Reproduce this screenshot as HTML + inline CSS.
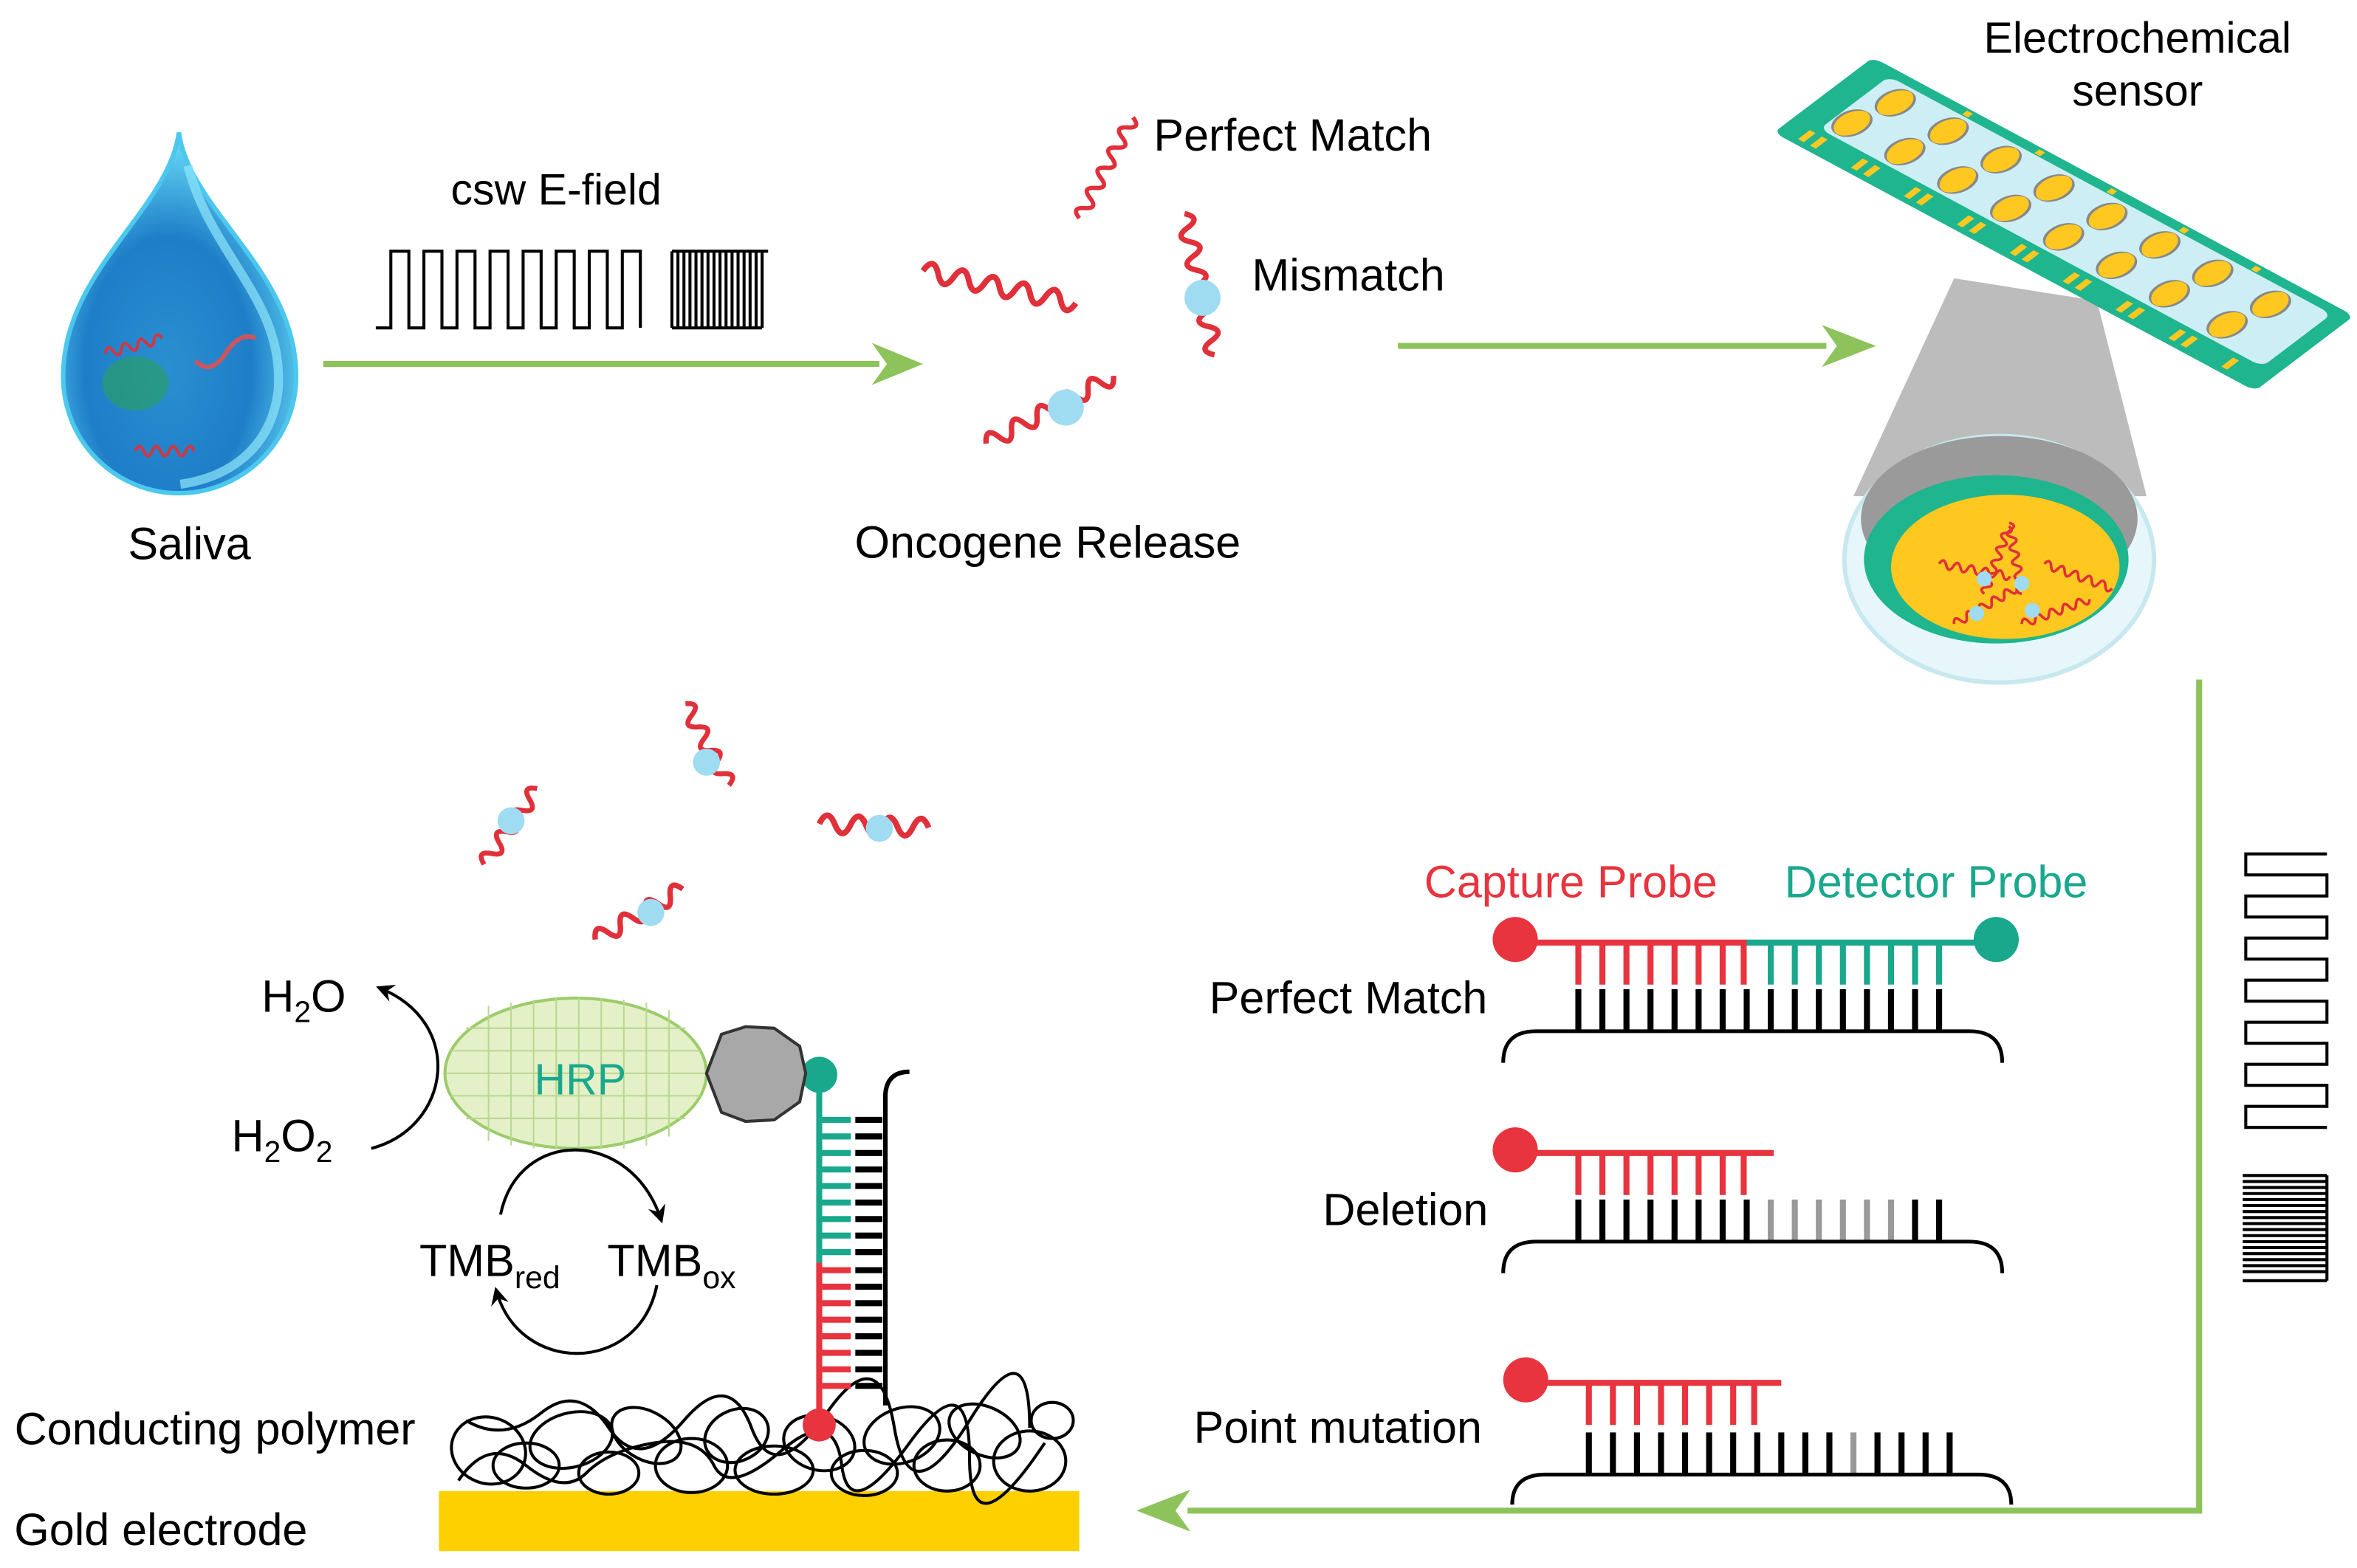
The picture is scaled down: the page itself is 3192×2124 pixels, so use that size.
<!DOCTYPE html>
<html><head><meta charset="utf-8"><style>
html,body{margin:0;padding:0;background:#fff}
svg{display:block}
text{font-family:"Liberation Sans",Arial,sans-serif}
</style></head><body>
<svg width="3192" height="2124" viewBox="0 0 1568 1043" xmlns="http://www.w3.org/2000/svg">
<defs>
<radialGradient id="drop" cx="0.45" cy="0.65" r="0.6">
<stop offset="0" stop-color="#2a8fd0"/><stop offset="0.6" stop-color="#1e7ec8"/><stop offset="1" stop-color="#5fd0f0"/>
</radialGradient>
<marker id="ka" markerWidth="14" markerHeight="14" refX="10" refY="7" orient="auto" markerUnits="userSpaceOnUse"><path d="M0,1 L12,7 L0,13 L4,7z" fill="#000"/></marker>
<path id="wave" d="M0,0 q4,-9 8,0 t8,0 t8,0 t8,0 t8,0 t8,0 t8,0 t8,0 t8,0 t8,0" fill="none" stroke="#e0303a" stroke-width="3"/>
<path id="wshort" d="M0,0 q4,-9 8,0 t8,0 t8,0 t8,0 t8,0 t8,0 t8,0" fill="none" stroke="#e0303a" stroke-width="3"/>
</defs>

<!-- drop -->
<path d="M119,88 C112,140 42,180 42,250 C42,295 78,328 119,328 C160,328 197,295 197,250 C197,180 126,140 119,88Z" fill="url(#drop)" stroke="#4cc8ee" stroke-width="3"/>
<path d="M125,110 C140,170 190,200 185,260 C180,300 150,318 120,322" fill="none" stroke="#8fe6fa" stroke-width="6" opacity="0.7"/>
<g opacity="0.9">
<use href="#wshort" transform="translate(70,235) rotate(-15) scale(0.7)"/>
<use href="#wshort" transform="translate(90,300) scale(0.7)"/>
<ellipse cx="90" cy="255" rx="22" ry="18" fill="#2aa060" opacity="0.7"/>
<path d="M130,240 q10,10 20,-5 t20,-10" stroke="#e05050" stroke-width="3" fill="none"/>
</g>
<text x="126" y="372" font-size="30" text-anchor="middle">Saliva</text>

<!-- csw -->
<text x="370" y="136" font-size="29" text-anchor="middle">csw E-field</text>
<path d="M250,218 L260,218 L260,167 L272,167 L272,218 L282,218 L282,167 L294,167 L294,218 L304,218 L304,167 L316,167 L316,218 L326,218 L326,167 L338,167 L338,218 L348,218 L348,167 L360,167 L360,218 L370,218 L370,167 L382,167 L382,218 L392,218 L392,167 L404,167 L404,218 L414,218 L414,167 L426,167 L426,218" fill="none" stroke="#000" stroke-width="2"/>
<g stroke="#000" stroke-width="2">
<path d="M447,218 L447,167 M451,218 L451,167 M455,218 L455,167 M459,218 L459,167 M463,218 L463,167 M467,218 L467,167 M471,218 L471,167 M475,218 L475,167 M479,218 L479,167 M483,218 L483,167 M487,218 L487,167 M491,218 L491,167 M495,218 L495,167 M499,218 L499,167 M503,218 L503,167 M507,218 L507,167 M447,218 L507,218 M447,167 L511,167"/>
</g>
<line x1="215" y1="242" x2="585" y2="242" stroke="#8dc35a" stroke-width="4"/>
<path d="M580,228 L614,242 L580,256 L590,242z" fill="#8dc35a"/>

<!-- oncogenes -->
<use href="#wave" transform="translate(718,145) rotate(-62) scale(0.95)"/>
<use href="#wave" transform="translate(614,180) rotate(12) scale(1.3)"/>
<use href="#wave" transform="translate(788,142) rotate(78) scale(1.2)"/>
<circle cx="800" cy="198" r="12" fill="#9fdcf2"/>
<use href="#wave" transform="translate(656,295) rotate(-28) scale(1.2)"/>
<circle cx="709" cy="271" r="12" fill="#9fdcf2"/>
<text x="860" y="100" font-size="30" text-anchor="middle">Perfect Match</text>
<text x="897" y="193" font-size="30" text-anchor="middle">Mismatch</text>
<text x="697" y="371" font-size="30" text-anchor="middle">Oncogene Release</text>
<line x1="930" y1="230" x2="1215" y2="230" stroke="#8dc35a" stroke-width="4"/>
<path d="M1212,216 L1248,230 L1212,244 L1222,230z" fill="#8dc35a"/>

<!-- sensor -->
<text x="1422" y="35" font-size="29" text-anchor="middle">Electrochemical</text>
<text x="1422" y="70" font-size="29" text-anchor="middle">sensor</text>
<path d="M1300,185 L1395,200 L1428,330 L1233,330z" fill="#b0b0b0" opacity="0.85"/>
<ellipse cx="1330" cy="372" rx="103" ry="82" fill="#e6f6fa" stroke="#c8e8f0" stroke-width="3"/>
<ellipse cx="1330" cy="345" rx="92" ry="55" fill="#9a9a9a"/>
<ellipse cx="1328" cy="372" rx="88" ry="56" fill="#1fb58e"/>
<ellipse cx="1334" cy="377" rx="76" ry="48" fill="#ffc820"/>
<path d="M1255,372 A80,50 0 0 1 1390,335" fill="none" stroke="#1fb58e" stroke-width="4"/>
<g transform="translate(1320,395) scale(0.6)"><use href="#wave" transform="rotate(-70)"/></g>
<g transform="translate(1345,395) scale(0.6)"><use href="#wave" transform="rotate(-100)"/></g>
<g transform="translate(1290,375) scale(0.6)"><use href="#wave" transform="rotate(10)"/></g>
<g transform="translate(1360,375) scale(0.6)"><use href="#wave" transform="rotate(20)"/></g>
<g transform="translate(1300,415) scale(0.6)"><use href="#wave" transform="rotate(-30)"/></g>
<g transform="translate(1345,415) scale(0.6)"><use href="#wave" transform="rotate(-20)"/></g>
<circle cx="1320" cy="385" r="5" fill="#9fdcf2"/><circle cx="1345" cy="388" r="5" fill="#9fdcf2"/>
<circle cx="1315" cy="408" r="5" fill="#9fdcf2"/><circle cx="1352" cy="406" r="5" fill="#9fdcf2"/>

<g transform="matrix(320,172,66,-50,1180,88)">
<rect x="0" y="0" width="1" height="1" rx="0.02" ry="0.05" fill="#1fb58e"/>
<rect x="0.05" y="0.22" width="0.92" height="0.7" rx="0.02" ry="0.06" fill="#cdeef4"/>
<g fill="#ffc820" stroke="#888" stroke-width="0.005">
<ellipse cx="0.08" cy="0.4" rx="0.026" ry="0.15"/><ellipse cx="0.10" cy="0.74" rx="0.026" ry="0.15"/>
<ellipse cx="0.19" cy="0.4" rx="0.026" ry="0.15"/><ellipse cx="0.21" cy="0.74" rx="0.026" ry="0.15"/>
<ellipse cx="0.30" cy="0.4" rx="0.026" ry="0.15"/><ellipse cx="0.32" cy="0.74" rx="0.026" ry="0.15"/>
<ellipse cx="0.41" cy="0.4" rx="0.026" ry="0.15"/><ellipse cx="0.43" cy="0.74" rx="0.026" ry="0.15"/>
<ellipse cx="0.52" cy="0.4" rx="0.026" ry="0.15"/><ellipse cx="0.54" cy="0.74" rx="0.026" ry="0.15"/>
<ellipse cx="0.63" cy="0.4" rx="0.026" ry="0.15"/><ellipse cx="0.65" cy="0.74" rx="0.026" ry="0.15"/>
<ellipse cx="0.74" cy="0.4" rx="0.026" ry="0.15"/><ellipse cx="0.76" cy="0.74" rx="0.026" ry="0.15"/>
<ellipse cx="0.86" cy="0.4" rx="0.026" ry="0.15"/><ellipse cx="0.88" cy="0.74" rx="0.026" ry="0.15"/>
</g>
<g fill="#ffc820">
<rect x="0.04" y="0.05" width="0.012" height="0.12"/><rect x="0.065" y="0.05" width="0.012" height="0.12"/>
<rect x="0.15" y="0.05" width="0.012" height="0.12"/><rect x="0.175" y="0.05" width="0.012" height="0.12"/>
<rect x="0.26" y="0.05" width="0.012" height="0.12"/><rect x="0.285" y="0.05" width="0.012" height="0.12"/>
<rect x="0.37" y="0.05" width="0.012" height="0.12"/><rect x="0.395" y="0.05" width="0.012" height="0.12"/>
<rect x="0.48" y="0.05" width="0.012" height="0.12"/><rect x="0.505" y="0.05" width="0.012" height="0.12"/>
<rect x="0.59" y="0.05" width="0.012" height="0.12"/><rect x="0.615" y="0.05" width="0.012" height="0.12"/>
<rect x="0.70" y="0.05" width="0.012" height="0.12"/><rect x="0.725" y="0.05" width="0.012" height="0.12"/>
<rect x="0.81" y="0.05" width="0.012" height="0.12"/><rect x="0.835" y="0.05" width="0.012" height="0.12"/>
<rect x="0.92" y="0.05" width="0.012" height="0.12"/>
<rect x="0.2" y="0.93" width="0.012" height="0.05"/><rect x="0.35" y="0.93" width="0.012" height="0.05"/><rect x="0.5" y="0.93" width="0.012" height="0.05"/><rect x="0.65" y="0.93" width="0.012" height="0.05"/><rect x="0.8" y="0.93" width="0.012" height="0.05"/>
</g>
</g>

<!-- right path arrow -->
<polyline points="1463,452 1463,1005 790,1005" fill="none" stroke="#8dc35a" stroke-width="4"/>
<path d="M792,991 L756,1005 L792,1019 L782,1005z" fill="#8dc35a"/>
<path d="M1548,568 L1494,568 L1494,582 L1548,582 L1548,596 L1494,596 L1494,610 L1548,610 L1548,624 L1494,624 L1494,638 L1548,638 L1548,652 L1494,652 L1494,666 L1548,666 L1548,680 L1494,680 L1494,694 L1548,694 L1548,708 L1494,708 L1494,722 L1548,722 L1548,736 L1494,736 L1494,750 L1548,750" fill="none" stroke="#000" stroke-width="2"/>
<g stroke="#000" stroke-width="2"><path d="M1492,782 H1548 M1492,786 H1548 M1492,790 H1548 M1492,794 H1548 M1492,798 H1548 M1492,802 H1548 M1492,806 H1548 M1492,810 H1548 M1492,814 H1548 M1492,818 H1548 M1492,822 H1548 M1492,826 H1548 M1492,830 H1548 M1492,834 H1548 M1492,838 H1548 M1492,842 H1548 M1492,846 H1548 M1492,852 H1548 M1548,782 V852"/></g>

<!-- probes -->
<text x="1045" y="597" font-size="30" text-anchor="middle" fill="#e8343e">Capture Probe</text>
<text x="1288" y="597" font-size="30" text-anchor="middle" fill="#1aa88c">Detector Probe</text>
<text x="897" y="674" font-size="30" text-anchor="middle">Perfect Match</text>
<text x="935" y="815" font-size="30" text-anchor="middle">Deletion</text>
<text x="890" y="960" font-size="30" text-anchor="middle">Point mutation</text>

<line x1="1008" y1="627" x2="1162" y2="627" stroke="#e8343e" stroke-width="4"/>
<line x1="1162" y1="627" x2="1330" y2="627" stroke="#1aa88c" stroke-width="4"/>
<circle cx="1008" cy="625" r="15" fill="#e8343e"/><circle cx="1328" cy="625" r="15" fill="#1aa88c"/>
<g stroke="#e8343e" stroke-width="4"><path d="M1050,627V655M1066,627V655M1082,627V655M1098,627V655M1114,627V655M1130,627V655M1146,627V655M1160,627V655"/></g>
<g stroke="#1aa88c" stroke-width="4"><path d="M1178,627V655M1194,627V655M1210,627V655M1226,627V655M1242,627V655M1258,627V655M1274,627V655M1290,627V655"/></g>
<g stroke="#000" stroke-width="4"><path d="M1050,658V686M1066,658V686M1082,658V686M1098,658V686M1114,658V686M1130,658V686M1146,658V686M1162,658V686M1178,658V686M1194,658V686M1210,658V686M1226,658V686M1242,658V686M1258,658V686M1274,658V686M1290,658V686"/></g>
<path d="M1000,707 Q1000,686 1022,686 L1310,686 Q1332,686 1332,707" fill="none" stroke="#000" stroke-width="2.5"/>

<line x1="1008" y1="767" x2="1180" y2="767" stroke="#e8343e" stroke-width="4"/>
<circle cx="1008" cy="765" r="15" fill="#e8343e"/>
<g stroke="#e8343e" stroke-width="4"><path d="M1050,767V795M1066,767V795M1082,767V795M1098,767V795M1114,767V795M1130,767V795M1146,767V795M1160,767V795"/></g>
<g stroke="#000" stroke-width="4"><path d="M1050,798V826M1066,798V826M1082,798V826M1098,798V826M1114,798V826M1130,798V826M1146,798V826M1162,798V826M1274,798V826M1290,798V826"/></g>
<g stroke="#999" stroke-width="4"><path d="M1178,798V826M1194,798V826M1210,798V826M1226,798V826M1242,798V826M1258,798V826"/></g>
<path d="M1000,847 Q1000,826 1022,826 L1310,826 Q1332,826 1332,847" fill="none" stroke="#000" stroke-width="2.5"/>

<line x1="1015" y1="920" x2="1185" y2="920" stroke="#e8343e" stroke-width="4"/>
<circle cx="1015" cy="918" r="15" fill="#e8343e"/>
<g stroke="#e8343e" stroke-width="4"><path d="M1057,920V948M1073,920V948M1089,920V948M1105,920V948M1121,920V948M1137,920V948M1153,920V948M1167,920V948"/></g>
<g stroke="#000" stroke-width="4"><path d="M1057,953V981M1073,953V981M1089,953V981M1105,953V981M1121,953V981M1137,953V981M1153,953V981M1169,953V981M1185,953V981M1201,953V981M1217,953V981M1249,953V981M1265,953V981M1281,953V981M1297,953V981"/></g>
<path d="M1233,953V981" stroke="#999" stroke-width="4"/>
<path d="M1006,1001 Q1006,981 1028,981 L1316,981 Q1338,981 1338,1001" fill="none" stroke="#000" stroke-width="2.5"/>

<!-- floating targets -->
<use href="#wshort" transform="translate(322,575) rotate(-55) scale(1.1)"/><circle cx="340" cy="546" r="9" fill="#9fdcf2"/>
<use href="#wshort" transform="translate(456,468) rotate(62) scale(1.1)"/><circle cx="470" cy="507" r="9" fill="#9fdcf2"/>
<use href="#wshort" transform="translate(545,548) rotate(2) scale(1.3)"/><circle cx="585" cy="551" r="9" fill="#9fdcf2"/>
<use href="#wshort" transform="translate(396,625) rotate(-30) scale(1.2)"/><circle cx="433" cy="607" r="9" fill="#9fdcf2"/>

<!-- bottom left -->
<text x="143" y="961" font-size="30" text-anchor="middle">Conducting polymer</text>
<text x="107" y="1028" font-size="30" text-anchor="middle">Gold electrode</text>
<rect x="292" y="992" width="426" height="40" fill="#ffd000"/>
<g fill="none" stroke="#000" stroke-width="2">
<ellipse cx="325" cy="965" rx="25" ry="22" transform="rotate(20 325 965)"/>
<ellipse cx="350" cy="975" rx="22" ry="15"/>
<ellipse cx="380" cy="958" rx="28" ry="18" transform="rotate(-15 380 958)"/>
<ellipse cx="405" cy="980" rx="20" ry="14"/>
<ellipse cx="430" cy="955" rx="25" ry="16" transform="rotate(30 430 955)"/>
<ellipse cx="460" cy="975" rx="24" ry="18"/>
<ellipse cx="490" cy="955" rx="22" ry="17" transform="rotate(-25 490 955)"/>
<ellipse cx="515" cy="978" rx="26" ry="16"/>
<ellipse cx="545" cy="960" rx="24" ry="18" transform="rotate(15 545 960)"/>
<ellipse cx="575" cy="980" rx="22" ry="15"/>
<ellipse cx="600" cy="955" rx="26" ry="18" transform="rotate(-20 600 955)"/>
<ellipse cx="630" cy="975" rx="22" ry="17"/>
<ellipse cx="655" cy="952" rx="25" ry="16" transform="rotate(25 655 952)"/>
<ellipse cx="685" cy="972" rx="24" ry="20"/>
<ellipse cx="700" cy="945" rx="14" ry="12"/>
<path d="M305,985 q20,-30 45,-10 t40,5 t45,-20 t40,15 t45,-10 t40,10 t45,-15 t40,10 t50,-10"/>
<path d="M310,945 q25,15 50,-5 t45,10 t50,-5 t45,5 t50,-10 t45,10 t50,-5 t40,5"/>
</g>
<!-- vertical DNA -->
<line x1="545" y1="715" x2="545" y2="840" stroke="#1aa88c" stroke-width="4"/>
<line x1="545" y1="840" x2="545" y2="948" stroke="#e8343e" stroke-width="4"/>
<circle cx="545" cy="948" r="11" fill="#e8343e"/>
<circle cx="545" cy="715" r="12" fill="#1aa88c"/>
<g stroke="#1aa88c" stroke-width="4"><path d="M547,745H566M547,756H566M547,767H566M547,778H566M547,789H566M547,800H566M547,811H566M547,822H566M547,833H566"/></g>
<g stroke="#e8343e" stroke-width="4"><path d="M547,845H566M547,856H566M547,867H566M547,878H566M547,889H566M547,900H566M547,911H566M547,922H566"/></g>
<g stroke="#000" stroke-width="4"><path d="M569,745H587M569,756H587M569,767H587M569,778H587M569,789H587M569,800H587M569,811H587M569,822H587M569,833H587M569,845H587M569,856H587M569,867H587M569,878H587M569,889H587M569,900H587M569,911H587M569,922H587"/></g>
<path d="M589,935 L589,728 Q590,713 605,713" fill="none" stroke="#000" stroke-width="3"/>
<!-- HRP -->
<ellipse cx="383" cy="714" rx="87" ry="50" fill="#e4f0c8" stroke="#9ccc6a" stroke-width="2"/>
<g stroke="#b8d890" stroke-width="1">
<path d="M310,684H456M300,699H466M297,714H469M300,729H466M310,744H456M325,669V759M340,667V762M355,665V764M370,664V764M385,664V764M400,664V764M415,665V764M430,667V762M445,672V756"/>
</g>
<text x="386" y="728" font-size="29" text-anchor="middle" fill="#1aa88c">HRP</text>
<path d="M480,688 L496,683 L515,684 L532,696 L536,714 L532,733 L515,745 L496,746 L480,740 L470,714Z" fill="#a8a8a8" stroke="#333" stroke-width="2"/>
<!-- H2O cycle -->
<text x="174" y="673" font-size="30">H<tspan font-size="20" dy="7">2</tspan><tspan dy="-7">O</tspan></text>
<text x="154" y="766" font-size="30">H<tspan font-size="20" dy="7">2</tspan><tspan dy="-7">O</tspan><tspan font-size="20" dy="7">2</tspan></text>
<path d="M247,764 C300,750 310,680 252,657" fill="none" stroke="#000" stroke-width="2" marker-end="url(#ka)"/>
<text x="279" y="849" font-size="30">TMB<tspan font-size="21" dy="8">red</tspan></text>
<text x="404" y="849" font-size="30">TMB<tspan font-size="21" dy="8">ox</tspan></text>
<path d="M333,808 C345,750 420,750 440,812" fill="none" stroke="#000" stroke-width="2" marker-end="url(#ka)"/>
<path d="M437,855 C425,915 345,915 330,858" fill="none" stroke="#000" stroke-width="2" marker-end="url(#ka)"/>
</svg>
</body></html>
